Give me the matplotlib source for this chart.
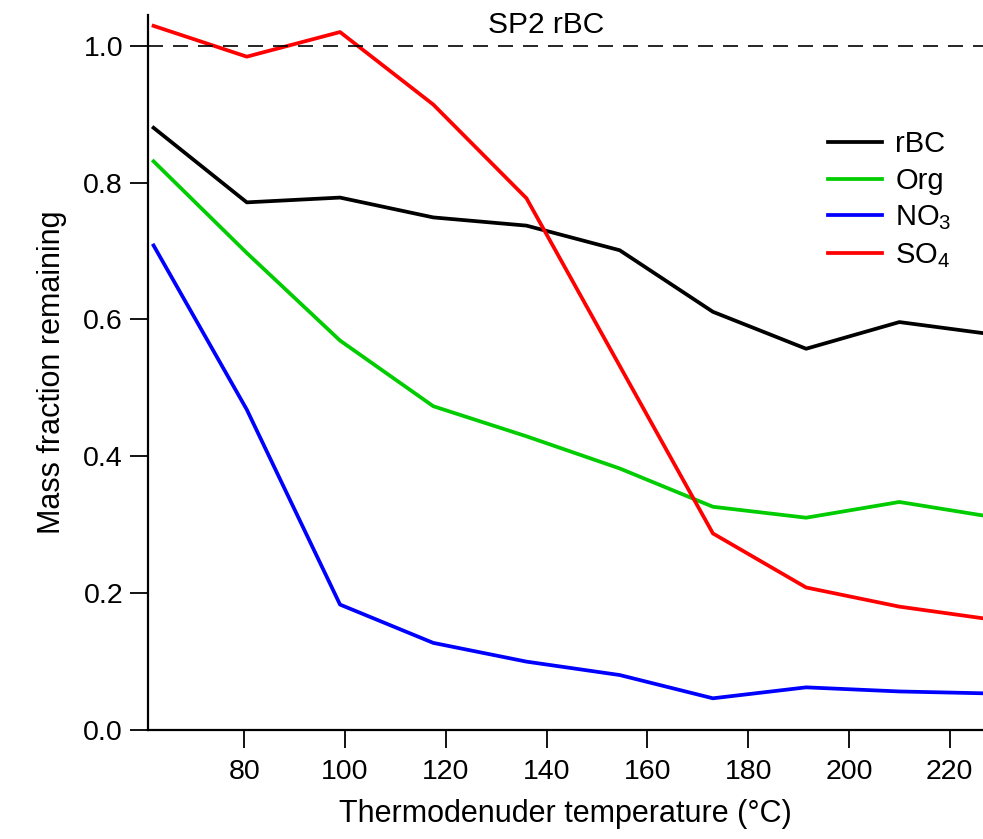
import matplotlib
matplotlib.use('Agg')
import matplotlib.pyplot as plt
import numpy as np

plt.rcParams['font.family'] = ['Liberation Sans', 'DejaVu Sans']
plt.rcParams['mathtext.default'] = 'regular'

# thermodenuder set points (deg C)
temp = [62, 80.5, 99, 117.5, 136, 154.5, 173, 191.5, 210, 228.5]

# mass fraction remaining for each species
rbc = [0.880, 0.771, 0.778, 0.749, 0.737, 0.701, 0.611, 0.557, 0.596, 0.578]
org = [0.831, 0.697, 0.569, 0.473, 0.429, 0.382, 0.326, 0.310, 0.333, 0.311]
no3 = [0.708, 0.468, 0.183, 0.127, 0.0996, 0.080, 0.046, 0.062, 0.056, 0.053]
so4 = [1.029, 0.984, 1.020, 0.914, 0.777, 0.532, 0.287, 0.208, 0.180, 0.161]

series = [('rBC', rbc, '#000000'),
          ('Org', org, '#00cc00'),
          ('NO$_3$', no3, '#0000ff'),
          ('SO$_4$', so4, '#ff0000')]

fig = plt.figure(figsize=(9.83, 8.39), dpi=100)
ax = fig.add_axes([0.1506, 0.1302, 0.8494, 0.852])

for name, vals, col in series:
    ax.plot(temp, vals, color=col, lw=2.7, label=name)

# reference level for the SP2 rBC
ax.axhline(1.0, color='black', lw=1.2, ls=(0, (9, 6)))
ax.text(0.477, 1.01, 'SP2 rBC', transform=ax.get_yaxis_transform(),
        fontsize=21.5, ha='center', va='bottom')

ax.set_xlim(60.9, 226.6)
ax.set_ylim(0, 1.045)
ax.set_xticks(np.arange(80, 221, 20))
ax.set_yticks(np.arange(0, 1.01, 0.2))
ax.set_yticklabels(['%.1f' % v for v in np.arange(0, 1.01, 0.2)])

for s in ['top', 'right']:
    ax.spines[s].set_visible(False)
for s in ['left', 'bottom']:
    ax.spines[s].set_linewidth(1.6)
ax.tick_params(axis='both', direction='out', length=13, width=1.3, labelsize=20.5)
ax.tick_params(axis='x', pad=8)
ax.tick_params(axis='y', pad=5)

ax.set_xlabel('Thermodenuder temperature (°C)', fontsize=22, labelpad=10)
ax.set_ylabel('Mass fraction remaining', fontsize=22, labelpad=12)

ax.legend(loc='upper left', bbox_to_anchor=(828 / 983, 1 - 130 / 839),
          bbox_transform=fig.transFigure, frameon=False, borderpad=0,
          borderaxespad=0, fontsize=21, handlelength=1.86,
          handletextpad=0.45, labelspacing=0.3)

fig.savefig('out.png', dpi=100)
